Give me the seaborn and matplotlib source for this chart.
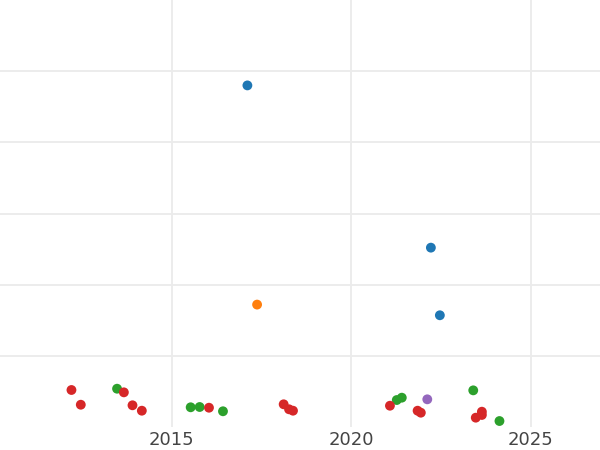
import pandas as pd
import matplotlib
matplotlib.use("Agg")
import matplotlib.pyplot as plt
import seaborn as sns

# Data (year, value, group)
blue_x = [2017.11, 2022.22, 2022.47]
blue_y = [48.0, 25.2, 15.7]
orange_x = [2017.38]
orange_y = [17.2]
green_x = [2013.48, 2015.53, 2015.78, 2016.43, 2021.27, 2021.41, 2023.40, 2024.13]
green_y = [5.38, 2.77, 2.81, 2.21, 3.79, 4.12, 5.15, 0.84]
red_x = [2012.21, 2012.47, 2013.67, 2013.91, 2014.17, 2016.04, 2018.12, 2018.27,
         2018.38, 2021.08, 2021.85, 2021.94, 2023.47, 2023.64, 2023.64]
red_y = [5.20, 3.13, 4.87, 3.05, 2.29, 2.71, 3.19, 2.49,
         2.29, 2.99, 2.29, 2.01, 1.31, 2.15, 1.69]
purple_x = [2022.12]
purple_y = [3.89]

groups = ["A", "B", "C", "D", "E"]
colors = ["#1f77b4", "#ff7f0e", "#2ca02c", "#d62728", "#9467bd"]

frames = []
for g, xs, ys in zip(groups,
                     [blue_x, orange_x, green_x, red_x, purple_x],
                     [blue_y, orange_y, green_y, red_y, purple_y]):
    frames.append(pd.DataFrame({"year": xs, "value": ys, "group": g}))
df = pd.concat(frames, ignore_index=True)

sns.set_style("whitegrid", {"grid.color": "#ebebeb"})

fig = plt.figure(figsize=(6, 4.5), dpi=100)
ax = fig.add_axes([0, 23 / 450, 1, 427 / 450])
sns.scatterplot(data=df, x="year", y="value", hue="group", hue_order=groups,
                palette=colors, s=50, edgecolor="none", legend=False, ax=ax)

ax.set_xlim(2010.22, 2026.93)
ax.set_ylim(0, 60)
ax.set_xticks([2015, 2020, 2025])
# only the inner gridlines show in the reference
ax.set_yticks([10, 20, 30, 40, 50])
ax.set_yticklabels([])
ax.tick_params(axis="x", labelsize=13, labelcolor="#444444", length=0, pad=3)
ax.tick_params(axis="y", length=0)
ax.grid(True, color="#ebebeb", linewidth=1.3)
ax.set_xlabel("")
ax.set_ylabel("")
for s in ax.spines.values():
    s.set_visible(False)

fig.savefig("out.png", dpi=100)
